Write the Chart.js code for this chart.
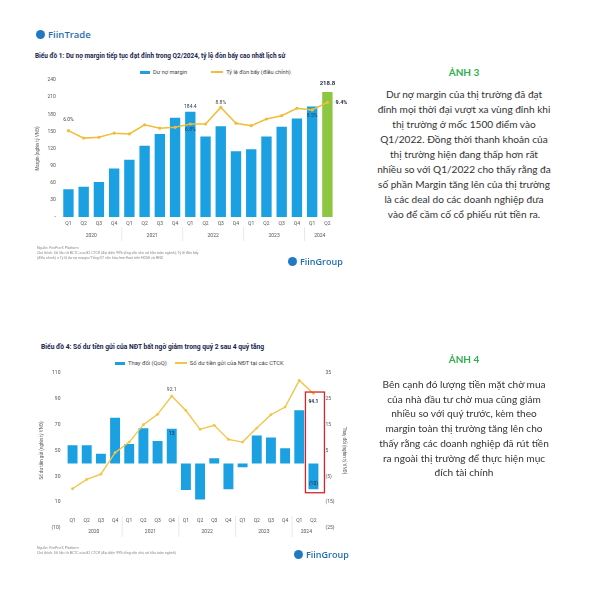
<!DOCTYPE html>
<html>
<head>
<meta charset="utf-8">
<script src="https://cdn.jsdelivr.net/npm/chart.js@4.4.1/dist/chart.umd.min.js"></script>
<style>
  body { margin: 0; width: 600px; height: 600px; background: #fff; position: relative; overflow: hidden; font-family: Roboto, sans-serif; }
  .abs { position: absolute; }
  .logo { position: absolute; display: flex; align-items: center; font-family: "Open Sans", sans-serif; font-weight: 600; color: #1f6db3; white-space: nowrap; }
  .logo i { display: inline-block; border-radius: 50%; background: #2178c4; margin-right: 3px; }
  .title { position: absolute; font-weight: 700; color: #17244d; white-space: nowrap; }
  .legend { position: absolute; color: #444; white-space: nowrap; display: flex; align-items: center; }
  .legend span.mk { display: inline-block; margin-right: 3px; }
  .note { position: absolute; font-size: 3.6px; color: #8a8a8a; line-height: 4.8px; white-space: nowrap; }
  .head { position: absolute; left: 354px; width: 220px; text-align: center; font-family: Lato, sans-serif; font-weight: 700; color: #2eb04b; font-size: 10px; line-height: 15px; }
  .para { position: absolute; left: 354px; width: 220px; text-align: center; font-family: Lato, sans-serif; font-size: 10.1px; color: #333; }
</style>
</head>
<body>

<!-- chart 1 -->
<div class="logo" style="left:36px;top:28px;font-size:9.5px;"><i style="width:9px;height:9px;"></i>FiinTrade</div>
<div class="title" style="left:35px;top:52px;font-size:6.45px;">Biểu đồ 1: Dư nợ margin tiếp tục đạt đỉnh trong Q2/2024, tỷ lệ đòn bẩy cao nhất lịch sử</div>
<div class="legend" style="left:140px;top:69px;font-size:5.7px;">
  <span class="mk" style="width:10px;height:3px;background:#1ba1e2;"></span>Dư nợ margin
  <span class="mk" style="width:12px;height:1.5px;background:#f0bd38;margin-left:24px;"></span>Tỷ lệ đòn bẩy (điều chỉnh)
</div>
<div class="abs" style="left:24px;top:72px;width:328px;height:178px;"><canvas id="chart-margin"></canvas></div>
<div class="note" style="left:37px;top:246px;">Nguồn: FiinPro-X Platform<br>Chú thích: Số liệu từ BCTC của 82 CTCK (đại diện 99% tổng vốn chủ sở hữu toàn ngành); Tỷ lệ đòn bẩy<br>(điều chỉnh) = Tỷ lệ dư nợ margin/Tổng GT vốn hóa free-float trên HOSE và HNX</div>
<div class="logo" style="left:288px;top:255px;font-size:9px;"><i style="width:9px;height:9px;"></i>FiinGroup</div>

<!-- chart 2 -->
<div class="title" style="left:41px;top:343px;font-size:6.7px;">Biểu đồ 4: Số dư tiền gửi của NĐT bất ngờ giảm trong quý 2 sau 4 quý tăng</div>
<div class="legend" style="left:115px;top:360px;font-size:5.8px;">
  <span class="mk" style="width:10px;height:3px;background:#1ba1e2;"></span>Thay đổi (QoQ)
  <span class="mk" style="width:12px;height:1.5px;background:#f3c447;margin-left:8px;"></span>Số dư tiền gửi của NĐT tại các CTCK
</div>
<div class="abs" style="left:22px;top:364px;width:338px;height:186px;"><canvas id="chart-deposit"></canvas></div>
<div class="note" style="left:37px;top:546px;">Nguồn: FiinPro-X Platform<br>Chú thích: Số liệu từ BCTC của 82 CTCK (đại diện 99% tổng vốn chủ sở hữu toàn ngành)</div>
<div class="logo" style="left:294px;top:548px;font-size:9px;"><i style="width:9px;height:9px;"></i>FiinGroup</div>

<!-- text -->
<div class="head" style="top:65px;">ẢNH 3</div>
<div class="para" style="top:87px;line-height:15px;">Dư nợ margin của thị trường đã đạt<br>đỉnh mọi thời đại vượt xa vùng đỉnh khi<br>thị trường ở mốc 1500 điểm vào<br>Q1/2022. Đồng thời thanh khoản của<br>thị trường hiện đang thấp hơn rất<br>nhiều so với Q1/2022 cho thấy rằng đa<br>số phần Margin tăng lên của thị trường<br>là các deal do các doanh nghiệp đưa<br>vào để cầm cố cổ phiếu rút tiền ra.</div>
<div class="head" style="top:352px;">ẢNH 4</div>
<div class="para" style="top:377px;line-height:14.7px;">Bên cạnh đó lượng tiền mặt chờ mua<br>của nhà đầu tư chờ mua cũng giảm<br>nhiều so với quý trước, kèm theo<br>margin toàn thị trường tăng lên cho<br>thấy rằng các doanh nghiệp đã rút tiền<br>ra ngoài thị trường để thực hiện mục<br>đích tài chính</div>

<script>
// ---- data ----
const QUARTERS = ['Q1','Q2','Q3','Q4','Q1','Q2','Q3','Q4','Q1','Q2','Q3','Q4','Q1','Q2','Q3','Q4','Q1','Q2'];
const YEARS = ['2020', '2021', '2022', '2023', '2024'];
const YEAR_SPAN = [4, 4, 4, 4, 2];

// Biểu đồ 1
const MARGIN = [48.5, 53, 61.5, 85, 100.5, 125, 145.5, 174, 184.4, 141, 159, 115, 118.5, 141, 158, 172.5, 193.5, 218.8];
const LEVERAGE = [6.0, 5.1, 5.2, 5.7, 5.6, 6.7, 6.3, 6.4, 6.8, 6.8, 8.8, 6.9, 6.6, 7.4, 7.8, 8.7, 8.5, 9.4];
const MARGIN_TICKS = [0, 30, 60, 90, 120, 150, 180, 210, 240];

// Biểu đồ 4
const DEPOSIT_CHG = [7, 7, 3.7, 17.7, 7.5, 13.6, 8.7, 13.4, -10.3, -14, 2, -10, -1.5, 10.8, 10, 5.9, 20.6, -10];
const DEPOSIT_BAL = [20.4, 27.6, 31.7, 48.3, 56.5, 70, 78, 92.1, 81, 66.4, 69.5, 58.6, 56.5, 67.4, 77.7, 83.6, 104.3, 94.1];
const BAL_TICKS = [-10, 10, 30, 50, 70, 90, 110];
const CHG_TICKS = [-25, -15, -5, 5, 15, 25, 35];

const BLUE = '#1ba1e2';
const GREEN = '#8dc641';
const GOLD = '#f0bd38';
const TICK = '#555';

Chart.defaults.font.family = 'Roboto';
Chart.defaults.animation = false;

const paren = v => v < 0 ? `(${Math.abs(v)})` : `${v}`;
const noGrid = { display: false, drawTicks: false };

// year row + separators under the quarter labels
const yearRow = {
  id: 'yearRow',
  afterDraw(chart, args, opts) {
    const { ctx, chartArea } = chart;
    const x = chart.scales.x;
    const half = (x.getPixelForValue(1) - x.getPixelForValue(0)) / 2;
    ctx.save();
    ctx.font = `${opts.size}px Roboto`;
    ctx.fillStyle = TICK;
    ctx.textAlign = 'center';
    ctx.textBaseline = 'middle';
    if (opts.quarterOffset != null) {
      QUARTERS.forEach((q, i) => ctx.fillText(q, x.getPixelForValue(i), chartArea.bottom + opts.quarterOffset));
    }
    ctx.strokeStyle = '#dcdcdc';
    ctx.lineWidth = 0.6;
    let i = 0;
    YEARS.forEach((yr, k) => {
      const a = x.getPixelForValue(i) - half;
      const b = x.getPixelForValue(i + YEAR_SPAN[k] - 1) + half;
      ctx.fillText(yr, (a + b) / 2, chartArea.bottom + opts.yearOffset);
      if (k > 0) {
        ctx.beginPath();
        ctx.moveTo(a, chartArea.bottom + opts.lineFrom);
        ctx.lineTo(a, chartArea.bottom + opts.lineTo);
        ctx.stroke();
      }
      i += YEAR_SPAN[k];
    });
    ctx.restore();
  }
};

// a few data labels, placed from the drawn elements
const markLabels = {
  id: 'markLabels',
  afterDatasetsDraw(chart, args, opts) {
    const { ctx } = chart;
    ctx.save();
    ctx.textAlign = 'center';
    ctx.textBaseline = 'middle';
    (opts.items || []).forEach(it => {
      const el = chart.getDatasetMeta(it.ds).data[it.i];
      ctx.font = `${it.bold ? '700 ' : ''}${it.size || 5}px Roboto`;
      ctx.fillStyle = it.color || '#333';
      ctx.fillText(it.text, el.x + (it.dx || 0), el.y + (it.dy || 0));
    });
    if (opts.box) {
      const { i, top, bottom } = opts.box;
      const cx = chart.scales.x.getPixelForValue(i);
      const y0 = chart.scales.y.getPixelForValue(top);
      const y1 = chart.scales.y1.getPixelForValue(bottom);
      ctx.strokeStyle = '#d8232a';
      ctx.lineWidth = 1.3;
      ctx.strokeRect(cx - 8, y0 - 1.5, 19, y1 - y0 + 5);
    }
    ctx.restore();
  }
};

// ---- chart 1 ----
new Chart(document.getElementById('chart-margin'), {
  type: 'bar',
  data: {
    labels: QUARTERS,
    datasets: [
      {
        type: 'bar',
        label: 'Dư nợ margin',
        data: MARGIN,
        backgroundColor: MARGIN.map((v, i) => i === MARGIN.length - 1 ? GREEN : BLUE),
        barPercentage: 0.68,
        categoryPercentage: 1,
        yAxisID: 'y',
        order: 2,
      },
      {
        type: 'line',
        label: 'Tỷ lệ đòn bẩy (điều chỉnh)',
        data: LEVERAGE,
        borderColor: GOLD,
        backgroundColor: GOLD,
        borderWidth: 1.5,
        pointRadius: 1.6,
        pointBorderWidth: 0,
        tension: 0,
        yAxisID: 'y1',
        order: 1,
      }
    ]
  },
  options: {
    responsive: true,
    maintainAspectRatio: false,
    layout: { padding: { top: 8, left: 9, right: 17, bottom: 19 } },
    plugins: {
      legend: { display: false },
      tooltip: { enabled: false },
      yearRow: { size: 5, yearOffset: 19, lineFrom: 10, lineTo: 24 },
      markLabels: {
        items: [
          { ds: 0, i: 8, text: MARGIN[8].toFixed(1), dy: -5, color: '#2b3a5a' },
          { ds: 0, i: 17, text: MARGIN[17].toFixed(1), dy: -9, bold: true, size: 6, color: '#1d2540' },
          { ds: 1, i: 0, text: LEVERAGE[0].toFixed(1) + '%', dy: -11, color: '#444' },
          { ds: 1, i: 8, text: LEVERAGE[8].toFixed(1) + '%', dy: 6, color: '#2b3a5a' },
          { ds: 1, i: 10, text: LEVERAGE[10].toFixed(1) + '%', dy: -5, color: '#444' },
          { ds: 1, i: 16, text: LEVERAGE[16].toFixed(1) + '%', dy: 6, color: '#2b3a5a' },
          { ds: 1, i: 17, text: LEVERAGE[17].toFixed(1) + '%', dx: 14, bold: true, size: 5.5, color: '#1d2540' },
        ]
      }
    },
    scales: {
      x: {
        grid: noGrid,
        border: { display: false },
        ticks: { color: TICK, font: { size: 5 }, padding: 4, maxRotation: 0, autoSkip: false }
      },
      y: {
        min: 0,
        max: 240,
        afterBuildTicks: s => { s.ticks = MARGIN_TICKS.map(v => ({ value: v })); },
        grid: noGrid,
        border: { display: false },
        ticks: { color: TICK, font: { size: 5 }, padding: 5, callback: v => v === 0 ? '-' : v },
        title: { display: true, text: 'Margin (nghìn tỷ VNĐ)', color: TICK, font: { size: 4.5 }, padding: 2 }
      },
      y1: { display: false, min: -4.4, max: 12.1 }
    }
  },
  plugins: [yearRow, markLabels]
});

// ---- chart 2 ----
new Chart(document.getElementById('chart-deposit'), {
  type: 'bar',
  data: {
    labels: QUARTERS,
    datasets: [
      {
        type: 'bar',
        label: 'Thay đổi (QoQ)',
        data: DEPOSIT_CHG,
        backgroundColor: BLUE,
        barPercentage: 0.7,
        categoryPercentage: 1,
        yAxisID: 'y1',
        order: 2,
      },
      {
        type: 'line',
        label: 'Số dư tiền gửi của NĐT tại các CTCK',
        data: DEPOSIT_BAL,
        borderColor: '#f3c447',
        backgroundColor: '#f3c447',
        borderWidth: 1.4,
        pointRadius: 1.4,
        pointBorderWidth: 0,
        tension: 0,
        yAxisID: 'y',
        order: 1,
      }
    ]
  },
  options: {
    responsive: true,
    maintainAspectRatio: false,
    layout: { padding: { top: 9, left: 15, right: 11, bottom: 22 } },
    plugins: {
      legend: { display: false },
      tooltip: { enabled: false },
      yearRow: { size: 5, quarterOffset: -7, yearOffset: 4, lineFrom: -12, lineTo: 9 },
      markLabels: {
        items: [
          { ds: 1, i: 7, text: DEPOSIT_BAL[7].toFixed(1), dy: -6, color: '#444' },
          { ds: 1, i: 17, text: DEPOSIT_BAL[17].toFixed(1), dy: 8, bold: true, color: '#1d2540' },
          { ds: 0, i: 7, text: Math.round(DEPOSIT_CHG[7]), dy: 5, color: '#1d2540' },
          { ds: 0, i: 17, text: paren(Math.round(DEPOSIT_CHG[17])), dy: -6, color: '#1d2540' },
        ],
        box: { i: 17, top: DEPOSIT_BAL[17], bottom: DEPOSIT_CHG[17] }
      }
    },
    scales: {
      x: { display: false },
      y: {
        position: 'left',
        min: -10,
        max: 110,
        afterBuildTicks: s => { s.ticks = BAL_TICKS.map(v => ({ value: v })); },
        grid: noGrid,
        border: { display: false },
        ticks: { color: TICK, font: { size: 5 }, padding: 5, callback: paren },
        title: { display: true, text: 'Số dư tiền gửi (nghìn tỷ VNĐ)', color: TICK, font: { size: 4.5 }, padding: 2 }
      },
      y1: {
        position: 'right',
        min: -25,
        max: 35,
        afterBuildTicks: s => { s.ticks = CHG_TICKS.map(v => ({ value: v })); },
        grid: noGrid,
        border: { display: false },
        ticks: { color: TICK, font: { size: 5 }, padding: 5, callback: paren },
        title: { display: true, text: 'Thay đổi (nghìn tỷ VNĐ)', color: TICK, font: { size: 4.5 }, padding: 2 }
      }
    }
  },
  plugins: [yearRow, markLabels]
});
</script>
</body>
</html>
